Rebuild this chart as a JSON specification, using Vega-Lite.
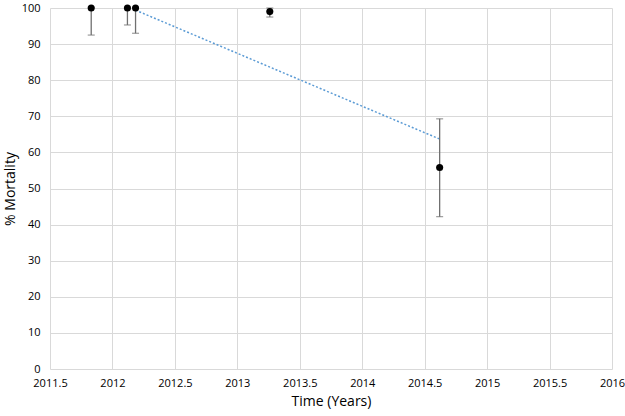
{
  "$schema": "https://vega.github.io/schema/vega-lite/v6.json",
  "width": 562,
  "height": 361,
  "autosize": {"type": "none"},
  "padding": {"left": 50, "top": 8, "right": 13, "bottom": 47},
  "background": "white",
  "config": {
    "font": "Open Sans",
    "view": {"stroke": null},
    "axis": {
      "grid": true,
      "gridColor": "#d9d9d9",
      "gridWidth": 1,
      "domain": false,
      "ticks": false,
      "labelColor": "#000000",
      "labelFontSize": 11,
      "labelOverlap": false,
      "titleFontSize": 14,
      "titleFontWeight": "normal",
      "titleColor": "#000000"
    }
  },
  "datasets": {
    "pts": [
      {"year": 2011.83, "mortality": 100, "lo": 92.5, "hi": 100},
      {"year": 2012.12, "mortality": 100, "lo": 95.3, "hi": 100},
      {"year": 2012.185, "mortality": 100, "lo": 93, "hi": 100},
      {"year": 2013.26, "mortality": 99, "lo": 97.5, "hi": 100},
      {"year": 2014.62, "mortality": 55.8, "lo": 42.2, "hi": 69.3}
    ],
    "trend": [
      {"year": 2012.185, "mortality": 99.4},
      {"year": 2014.62, "mortality": 63.7}
    ]
  },
  "encoding": {
    "x": {"field": "year", "type": "quantitative", "scale": {"domain": [2011.5, 2016], "nice": false, "zero": false},
      "axis": {"values": [2011.5, 2012, 2012.5, 2013, 2013.5, 2014, 2014.5, 2015, 2015.5, 2016], "format": "", "labelPadding": 8, "title": "Time (Years)", "titlePadding": 6, "labelFlush": false}}
  },
  "layer": [
    {
      "data": {"name": "trend"},
      "mark": {"type": "line", "color": "#5b9bd5", "strokeWidth": 1.5, "strokeDash": [2, 2]},
      "encoding": {
        "y": {"field": "mortality", "type": "quantitative", "scale": {"domain": [0, 100], "nice": false},
          "axis": {"values": [0, 10, 20, 30, 40, 50, 60, 70, 80, 90, 100], "labelPadding": 10, "title": "% Mortality", "titlePadding": 4}}
      }
    },
    {
      "data": {"name": "pts"},
      "mark": {"type": "rule", "color": "#707070", "strokeWidth": 1.3},
      "encoding": {
        "y": {"field": "lo", "type": "quantitative",
          "axis": {"values": [0, 10, 20, 30, 40, 50, 60, 70, 80, 90, 100], "labelPadding": 10, "title": "% Mortality", "titlePadding": 4}},
        "y2": {"field": "hi"}
      }
    },
    {
      "data": {"name": "pts"},
      "mark": {"type": "tick", "orient": "horizontal", "color": "#707070", "size": 7, "thickness": 1.2},
      "encoding": {
        "y": {"field": "lo", "type": "quantitative",
          "axis": {"values": [0, 10, 20, 30, 40, 50, 60, 70, 80, 90, 100], "labelPadding": 10, "title": "% Mortality", "titlePadding": 4}}
      }
    },
    {
      "data": {"name": "pts"},
      "mark": {"type": "tick", "orient": "horizontal", "color": "#707070", "size": 7, "thickness": 1.2},
      "encoding": {
        "y": {"field": "hi", "type": "quantitative",
          "axis": {"values": [0, 10, 20, 30, 40, 50, 60, 70, 80, 90, 100], "labelPadding": 10, "title": "% Mortality", "titlePadding": 4}}
      }
    },
    {
      "data": {"name": "pts"},
      "mark": {"type": "circle", "color": "#000000", "opacity": 1, "size": 50},
      "encoding": {
        "y": {"field": "mortality", "type": "quantitative",
          "axis": {"values": [0, 10, 20, 30, 40, 50, 60, 70, 80, 90, 100], "labelPadding": 10, "title": "% Mortality", "titlePadding": 4}}
      }
    }
  ]
}
